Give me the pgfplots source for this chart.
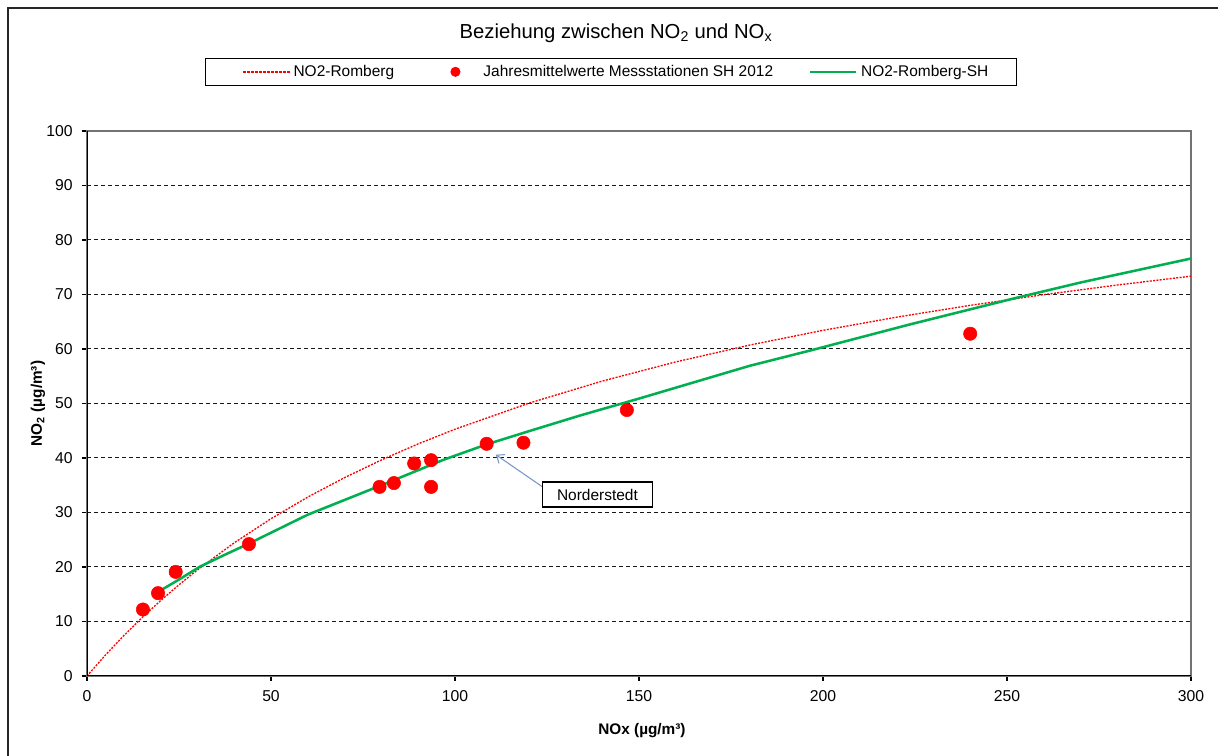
\documentclass[border=0pt]{standalone}
\usepackage{fontspec}
\setmainfont{Liberation Sans}
\usepackage{pgfplots}
\pgfplotsset{compat=1.18}
\usetikzlibrary{arrows.meta}
\definecolor{rred}{RGB}{255,0,0}
\definecolor{sgreen}{RGB}{0,176,80}
\definecolor{arrowblue}{RGB}{120,150,200}
\begin{document}
\begin{tikzpicture}
\useasboundingbox (0,0) rectangle (913.5pt,567pt);
\begin{scope}
\clip (0,0) rectangle (913.5pt,567pt);
\draw[line width=1.5pt, black!85] (6pt,-10pt) -- (6pt,561pt) -- (930pt,561pt);
\end{scope}
\node[font=\fontsize{15.2}{18}\selectfont] at (462pt,542.25pt) {Beziehung zwischen NO\textsubscript{2} und NO\textsubscript{x}};
\begin{axis}[
  at={(65.25pt,60pt)}, anchor=south west,
  scale only axis, width=828pt, height=408.75pt,
  xmin=0,xmax=300,ymin=0,ymax=100,
  xtick={0,50,...,300}, ytick={0,10,...,100},
  tick align=outside, major tick length=3.75pt,
  tick pos=left,
  tick style={black, line width=0.8pt},
  axis line style={black!55, line width=0.8pt},
  ymajorgrids,
  major grid style={black!90, dash pattern=on 3pt off 2.25pt, line width=0.75pt},
  ticklabel style={font=\fontsize{11.8}{14}\selectfont},
  yticklabel style={xshift=-3.5pt},
  xticklabel style={yshift=-3.5pt},
  /pgf/number format/assume math mode=true,
  xlabel={\bfseries NOx (µg/m³)},
  ylabel={\bfseries NO\textsubscript{2} (µg/m³)},
  label style={font=\fontsize{11.5}{14}\selectfont},
  xlabel style={at={(axis description cs:0.5027,-0.1)}, anchor=center},
  ylabel style={at={(axis description cs:-0.0444,0.5)}, anchor=center},
  legend style={at={(axis description cs:0.1069,1.1339)}, anchor=north west,
    legend columns=3, draw=black, line width=0.8pt,
    font=\fontsize{11.6}{13.9}\selectfont,
    inner xsep=8pt, inner ysep=3pt,
    nodes={inner xsep=1pt, inner ysep=2pt},
    /tikz/column 2/.style={column sep=8pt},
    /tikz/column 4/.style={column sep=7pt}},
  legend cell align=left,
]
\addplot[color=rred, line width=1pt, dash pattern=on 1.5pt off 1pt, no marks,
  legend image code/.code={\path[draw=none] (-20pt,0pt) (37pt,0pt);
    \foreach \i in {0,3,...,33}{\fill[fill=rred,draw=none] (\i pt,-0.6pt) rectangle ++(2pt,1.2pt);}}] table {
x y
0 0
5 3.84
10 7.41
15 10.73
20 13.83
25 16.74
30 19.46
40 24.44
50 28.86
60 32.83
70 36.40
80 39.64
90 42.59
100 45.28
120 50.04
140 54.11
160 57.63
180 60.71
200 63.42
220 65.84
240 68.01
260 69.97
280 71.74
300 73.36
};
\addlegendentry{NO2-Romberg}
\addplot[only marks, mark=*, mark size=5pt, mark options={fill=rred, draw=rred},
  legend image code/.code={\path[draw=none] (-20pt,0pt) (37pt,0pt); \fill[fill=rred,draw=none] (17pt,0pt) circle (3.8pt);}] table {
x y
15.2 12.2
19.3 15.2
24.1 19.1
44.0 24.2
79.5 34.7
83.4 35.4
88.9 39.0
93.5 39.6
93.5 34.7
108.6 42.6
118.6 42.8
146.7 48.8
240.0 62.8
};
\addlegendentry{Jahresmittelwerte Messstationen SH 2012}
\addplot[color=sgreen, line width=1.9pt, no marks,
  legend image code/.code={\path[draw=none] (-20pt,0pt) (37pt,0pt); \fill[fill=sgreen,draw=none] (0pt,-0.95pt) rectangle (34pt,0.95pt);}] table {
x y
20.5 15.9
25 17.7
30.8 20.1
37 22.1
44 24.3
60 29.6
80 35.0
97 39.7
108.6 42.5
120 44.9
134 47.8
150 50.9
170 54.9
180 56.9
197 59.8
223 64.4
252 69.3
270 72.2
300 76.6
};
\addlegendentry{NO2-Romberg-SH\hspace*{12pt}}
\draw[black, line width=0.9pt] (rel axis cs:0,1) -- (rel axis cs:0,0) -- (rel axis cs:1,0);
\draw[arrowblue, line width=0.8pt, -{Straight Barb[length=5pt,width=8pt]}] (axis cs:124.2,34.5) -- (axis cs:111.1,40.6);
\node[draw=black, fill=white, line width=0.8pt, font=\fontsize{11.6}{13.9}\selectfont, minimum width=82pt, minimum height=18.75pt, inner sep=0pt] at (axis cs:138.7,33.3) {Norderstedt};
\end{axis}
\end{tikzpicture}
\end{document}
